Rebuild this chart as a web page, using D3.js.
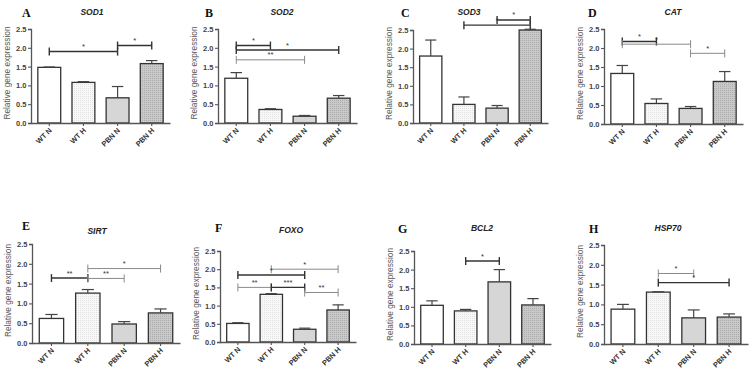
<!DOCTYPE html>
<html>
<head>
<meta charset="utf-8">
<script src="https://cdn.jsdelivr.net/npm/d3@7"></script>
<style>
  body { margin: 0; background: #fff; }
  svg { display: block; }
  text { font-family: "Liberation Sans", Arial, sans-serif; }
</style>
</head>
<body>
<svg id="chart" width="756" height="374"></svg>
<script>
// groups on the x axis of every panel
const groups = ["WT N", "WT H", "PBN N", "PBN H"];
const genes = ["SOD1", "SOD2", "SOD3", "CAT", "SIRT", "FOXO", "BCL2", "HSP70"];
const letters = ["A", "B", "C", "D", "E", "F", "G", "H"];
const yTicks = [0, 0.5, 1.0, 1.5, 2.0, 2.5];

// mean relative expression, one row per gene
const means = [
  [1.48, 1.08, 0.67, 1.58],
  [1.19, 0.36, 0.18, 0.66],
  [1.80, 0.50, 0.40, 2.50],
  [1.33, 0.54, 0.41, 1.12],
  [0.62, 1.26, 0.48, 0.76],
  [0.51, 1.31, 0.35, 0.88],
  [1.04, 0.89, 1.67, 1.05],
  [0.88, 1.31, 0.66, 0.68]
];
// upper error (SEM)
const errs = [
  [0.01, 0.02, 0.30, 0.08],
  [0.15, 0.02, 0.02, 0.07],
  [0.43, 0.20, 0.07, 0.02],
  [0.21, 0.12, 0.05, 0.26],
  [0.10, 0.09, 0.06, 0.10],
  [0.02, 0.02, 0.03, 0.14],
  [0.12, 0.04, 0.33, 0.17],
  [0.12, 0.01, 0.20, 0.08]
];
// significance brackets: [from group, to group, height, label, dark line?]
const sigs = [
  [[0, 2, 1.90, "*", 1], [2, 3, 2.06, "*", 1]],
  [[0, 1, 2.06, "*", 1], [0, 3, 1.94, "*", 1], [0, 2, 1.68, "**", 0]],
  [[1, 3, 2.63, "*", 1], [2, 3, 2.77, "*", 1]],
  [[0, 1, 2.17, "*", 1], [0, 2, 2.10, "*", 0], [2, 3, 1.86, "*", 0]],
  [[0, 1, 1.64, "**", 1], [1, 2, 1.63, "**", 0], [1, 3, 1.88, "*", 0]],
  [[1, 3, 2.00, "*", 0], [0, 2, 1.84, "*", 1], [0, 1, 1.50, "**", 0], [1, 2, 1.50, "***", 1], [2, 3, 1.36, "**", 0]],
  [[1, 2, 2.23, "*", 1]],
  [[1, 2, 1.78, "*", 0], [1, 3, 1.55, "*", 1]]
];

// panel layout (pixels): y axis x, x axis end, top of scale (2.5), baseline (0)
const layout = [
  { ax: 31,  xEnd: 170, top: 29,  bot: 123, tx: 92,  ty: 15,  lx: 22,  ly: 17 },
  { ax: 218, xEnd: 357, top: 29,  bot: 123, tx: 282, ty: 15,  lx: 205, ly: 17 },
  { ax: 413, xEnd: 548, top: 30,  bot: 123, tx: 469, ty: 15,  lx: 401, ly: 17 },
  { ax: 604, xEnd: 743, top: 29,  bot: 124, tx: 673, ty: 15,  lx: 588, ly: 17 },
  { ax: 32,  xEnd: 180, top: 244, bot: 343, tx: 97,  ty: 234, lx: 22,  ly: 230 },
  { ax: 220, xEnd: 356, top: 251, bot: 342, tx: 291, ty: 233, lx: 215, ly: 232 },
  { ax: 414, xEnd: 551, top: 251, bot: 344, tx: 482, ty: 231, lx: 398, ly: 233 },
  { ax: 604, xEnd: 748, top: 245, bot: 344, tx: 668, ty: 231, lx: 589, ly: 233 }
];

const svg = d3.select("#chart");

// dotted fills for the "H" groups
const defs = svg.append("defs");
function dotPattern(id, bg, dot) {
  const p = defs.append("pattern").attr("id", id)
    .attr("width", 2).attr("height", 2).attr("patternUnits", "userSpaceOnUse");
  p.append("rect").attr("width", 2).attr("height", 2).attr("fill", bg);
  p.append("rect").attr("width", 1).attr("height", 1).attr("fill", dot);
}
dotPattern("dotLight", "#f8f8f8", "#e2e2e2");
dotPattern("dotDark", "#c9c9c9", "#acacac");
const fills = ["#ffffff", "url(#dotLight)", "#d6d6d6", "url(#dotDark)"];

const axisColor = "#555";

genes.forEach(function(gene, i) {
  const L = layout[i];
  const g = svg.append("g");

  const x = d3.scaleBand().domain(groups).range([L.ax, L.xEnd])
    .paddingInner(0.33).paddingOuter(0.2);
  const y = d3.scaleLinear().domain([0, 2.5]).range([L.bot, L.top]);

  // bars
  g.selectAll(".bar").data(groups).enter().append("rect")
    .attr("x", d => x(d))
    .attr("y", (d, k) => y(means[i][k]))
    .attr("width", x.bandwidth())
    .attr("height", (d, k) => y(0) - y(means[i][k]))
    .attr("fill", (d, k) => fills[k])
    .attr("stroke", "#333")
    .attr("stroke-width", 1.3);

  // error bars (upper half only)
  groups.forEach(function(d, k) {
    const cx = x(d) + x.bandwidth() / 2;
    const y0 = y(means[i][k]), y1 = y(means[i][k] + errs[i][k]);
    g.append("line").attr("x1", cx).attr("x2", cx).attr("y1", y0).attr("y2", y1)
      .attr("stroke", "#444").attr("stroke-width", 1.2);
    g.append("line").attr("x1", cx - x.bandwidth() / 4).attr("x2", cx + x.bandwidth() / 4)
      .attr("y1", y1).attr("y2", y1)
      .attr("stroke", "#444").attr("stroke-width", 1.2);
  });

  // y axis
  const yAxis = g.append("g").attr("transform", "translate(" + L.ax + ",0)")
    .call(d3.axisLeft(y).tickValues(yTicks).tickFormat(d3.format(".1f")).tickSize(3).tickPadding(1.5));
  yAxis.select(".domain").attr("stroke", axisColor).attr("stroke-width", 1.3);
  yAxis.selectAll(".tick line").attr("stroke", axisColor).attr("stroke-width", 1.1);
  yAxis.selectAll(".tick text").attr("fill", "#444").style("font-size", "7.5px").style("font-weight", "bold");

  // x axis
  const xAxis = g.append("g").attr("transform", "translate(0," + L.bot + ")")
    .call(d3.axisBottom(x).tickSize(3).tickSizeOuter(0));
  xAxis.select(".domain").attr("stroke", axisColor).attr("stroke-width", 1.3);
  xAxis.selectAll(".tick line").attr("stroke", axisColor).attr("stroke-width", 1.1);
  xAxis.selectAll(".tick text")
    .attr("fill", "#333")
    .style("font-size", "7.3px").style("font-weight", "bold")
    .attr("text-anchor", "end")
    .attr("dy", null)
    .attr("y", 0)
    .attr("transform", "translate(3,8) rotate(-45)");

  // y axis title
  g.append("text")
    .attr("transform", "translate(" + (L.ax - 21) + "," + ((L.top + L.bot) / 2 - 3) + ") rotate(-90)")
    .attr("text-anchor", "middle")
    .attr("fill", "#555")
    .style("font-size", "8.3px")
    .text("Relative gene expression");

  // panel title and letter
  g.append("text").attr("x", L.tx).attr("y", L.ty).attr("text-anchor", "middle")
    .style("font-size", "8.5px").style("font-weight", "bold").style("font-style", "italic")
    .attr("fill", "#222").text(gene);
  g.append("text").attr("x", L.lx).attr("y", L.ly)
    .style("font-family", "'Liberation Serif', 'DejaVu Serif', serif")
    .style("font-size", "12px").style("font-weight", "bold")
    .attr("fill", "#111").text(letters[i]);

  // significance brackets
  sigs[i].forEach(function(s) {
    const x1 = x(groups[s[0]]) + x.bandwidth() / 2;
    const x2 = x(groups[s[1]]) + x.bandwidth() / 2;
    const yy = y(s[2]);
    const col = s[4] ? "#333" : "#8a8a8a";
    const w = s[4] ? 1.4 : 1;
    const b = g.append("g");
    b.append("line").attr("x1", x1).attr("x2", x2).attr("y1", yy).attr("y2", yy)
      .attr("stroke", col).attr("stroke-width", w);
    [x1, x2].forEach(function(xx) {
      b.append("line").attr("x1", xx).attr("x2", xx).attr("y1", yy - 4).attr("y2", yy + 4)
        .attr("stroke", col).attr("stroke-width", w);
    });
    b.append("text").attr("x", (x1 + x2) / 2).attr("y", yy - 2.5)
      .attr("text-anchor", "middle")
      .style("font-size", "7.5px").attr("fill", "#333").text(s[3]);
  });
});
</script>
</body>
</html>
